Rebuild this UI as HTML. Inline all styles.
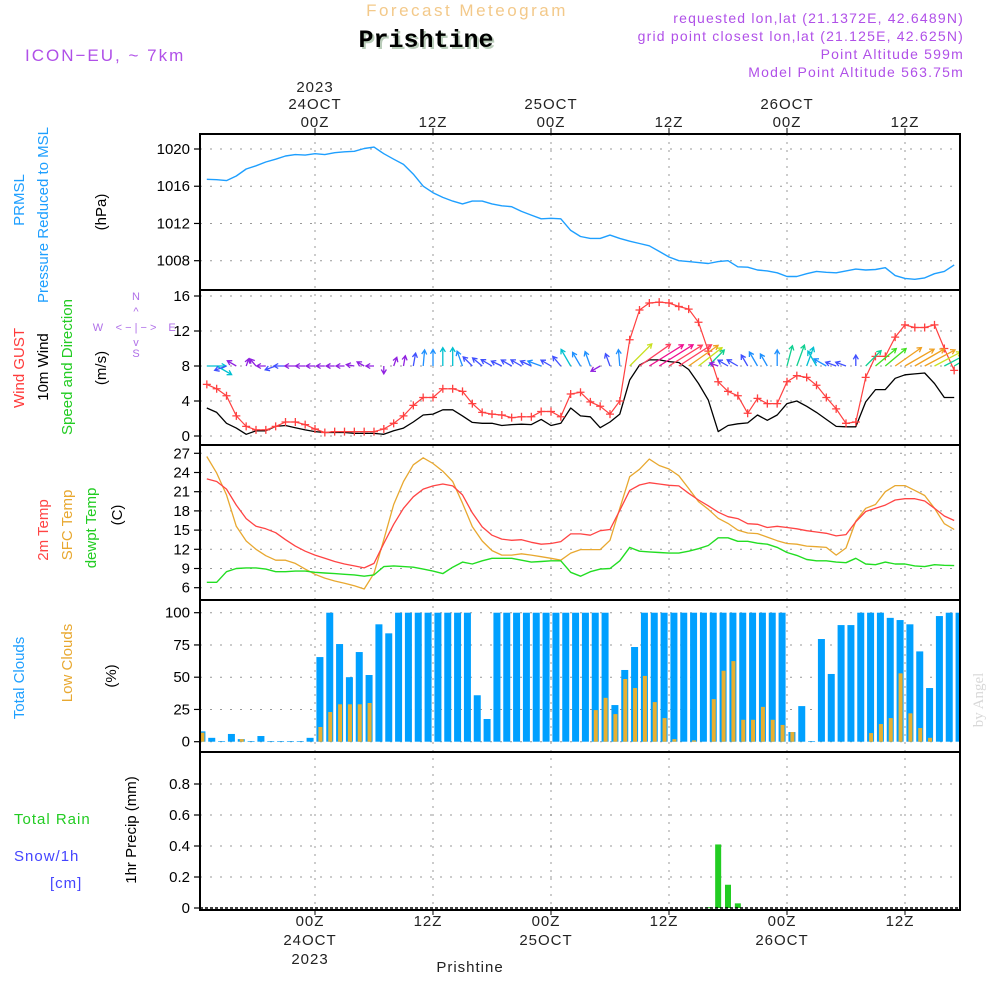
<!DOCTYPE html>
<html><head><meta charset="utf-8"><title>Forecast Meteogram Prishtine</title>
<style>
html,body{margin:0;padding:0;background:#fff;}
svg{display:block;font-family:"Liberation Sans",sans-serif;}
.tick{font-size:15px;fill:#000;text-anchor:end;}
.tl{font-size:15px;fill:#222;text-anchor:middle;letter-spacing:1px;}
.lab{font-size:15px;}
</style></head>
<body>
<svg id="chart" width="1000" height="1000" viewBox="0 0 1000 1000" xmlns="http://www.w3.org/2000/svg">
<rect width="1000" height="1000" fill="#fff"/>
<text x="467" y="16" font-size="17" fill="#f3c98a" text-anchor="middle" letter-spacing="2.5">Forecast Meteogram</text>
<text x="428" y="49" font-family="Liberation Mono, monospace" font-weight="bold" font-size="25" fill="#b9ccb9" text-anchor="middle">Prishtine</text>
<text x="426" y="47" font-family="Liberation Mono, monospace" font-weight="bold" font-size="25" fill="#000" text-anchor="middle">Prishtine</text>
<text x="25" y="61" font-size="17" fill="#b050e8" letter-spacing="2">ICON−EU, ~ 7km</text>
<g font-size="14" fill="#b050e8" text-anchor="end" letter-spacing="1.2">
<text x="964" y="23">requested lon,lat (21.1372E, 42.6489N)</text>
<text x="964" y="41">grid point closest lon,lat (21.125E, 42.625N)</text>
<text x="964" y="59">Point Altitude 599m</text>
<text x="964" y="77">Model Point Altitude 563.75m</text>
</g>
<text transform="translate(983,700) rotate(-90)" font-family="Liberation Serif, serif" font-size="15" fill="#d8d8d8" text-anchor="middle">by Angel</text>

<g class="tl">
<text class="tl" x="315" y="92">2023</text>
<text class="tl" x="315" y="109">24OCT</text>
<text class="tl" x="315" y="127">00Z</text>
<text class="tl" x="433" y="127">12Z</text>
<text class="tl" x="551" y="109">25OCT</text>
<text class="tl" x="551" y="127">00Z</text>
<text class="tl" x="669" y="127">12Z</text>
<text class="tl" x="787" y="109">26OCT</text>
<text class="tl" x="787" y="127">00Z</text>
<text class="tl" x="905" y="127">12Z</text>
</g>
<g>
<text class="tl" x="310" y="926">00Z</text>
<text class="tl" x="310" y="945">24OCT</text>
<text class="tl" x="310" y="964">2023</text>
<text class="tl" x="428" y="926">12Z</text>
<text class="tl" x="546" y="926">00Z</text>
<text class="tl" x="546" y="945">25OCT</text>
<text class="tl" x="664" y="926">12Z</text>
<text class="tl" x="782" y="926">00Z</text>
<text class="tl" x="782" y="945">26OCT</text>
<text class="tl" x="900" y="926">12Z</text>
<text x="470" y="972" font-size="15" fill="#222" text-anchor="middle" letter-spacing="1">Prishtine</text>
</g>

<g class="lab">
<text transform="translate(24,200) rotate(-90)" fill="#1e9fff" text-anchor="middle">PRMSL</text>
<text transform="translate(48,215) rotate(-90)" fill="#1e9fff" text-anchor="middle">Pressure Reduced to MSL</text>
<text transform="translate(106,212) rotate(-90)" fill="#000" text-anchor="middle">(hPa)</text>
</g>
<g class="lab">
<text transform="translate(24,368) rotate(-90)" fill="#ff3b3b" text-anchor="middle">Wind GUST</text>
<text transform="translate(48,367) rotate(-90)" fill="#000" text-anchor="middle">10m Wind</text>
<text transform="translate(72,367) rotate(-90)" fill="#22cc22" text-anchor="middle">Speed and Direction</text>
<text transform="translate(106,368) rotate(-90)" fill="#000" text-anchor="middle">(m/s)</text>
</g>
<g font-size="11" fill="#b070e8" text-anchor="middle">
<text x="136" y="300">N</text>
<text x="136" y="315">^</text>
<text x="98" y="331">W</text>
<text x="136" y="331">&lt; − | − &gt;</text>
<text x="172" y="331">E</text>
<text x="136" y="346">v</text>
<text x="136" y="357">S</text>
</g>
<g class="lab">
<text transform="translate(48,530) rotate(-90)" fill="#ff4444" text-anchor="middle">2m Temp</text>
<text transform="translate(72,525) rotate(-90)" fill="#e8a830" text-anchor="middle">SFC Temp</text>
<text transform="translate(96,528) rotate(-90)" fill="#22cc22" text-anchor="middle">dewpt Temp</text>
<text transform="translate(122,515) rotate(-90)" fill="#000" text-anchor="middle">(C)</text>
</g>
<g class="lab">
<text transform="translate(24,678) rotate(-90)" fill="#1e9fff" text-anchor="middle">Total Clouds</text>
<text transform="translate(72,663) rotate(-90)" fill="#e8a830" text-anchor="middle">Low Clouds</text>
<text transform="translate(116,676) rotate(-90)" fill="#000" text-anchor="middle">(%)</text>
</g>
<g class="lab">
<text x="14" y="824" fill="#22cc22" letter-spacing="1">Total  Rain</text>
<text x="14" y="861" fill="#4444ff" letter-spacing="1">Snow/1h</text>
<text x="50" y="888" fill="#4444ff" letter-spacing="1">[cm]</text>
<text transform="translate(136,830) rotate(-90)" fill="#000" text-anchor="middle">1hr Precip (mm)</text>
</g>
<defs><clipPath id="plotclip"><rect x="200" y="134" width="760" height="776"/></clipPath></defs>
<g id="grid"></g>
<g id="marks" clip-path="url(#plotclip)"></g>
<g id="frames"></g>
</svg>
<script>
// ---- data (hour index i -> hours since 00Z 24OCT: -11 + i) ----
const timeTicks = [0, 12, 24, 36, 48, 60];
const pressTicks = [1008, 1012, 1016, 1020];
const windTicks = [0, 4, 8, 12, 16];
const tempTicks = [6, 9, 12, 15, 18, 21, 24, 27];
const cloudTicks = [0, 25, 50, 75, 100];
const precipTicks = [0, 0.2, 0.4, 0.6, 0.8];
const precipTickLabels = ["0", "0.2", "0.4", "0.6", "0.8"];

const pressure = [1016.75,1016.7,1016.6,1017.1,1017.85,1018.2,1018.6,1018.9,1019.25,1019.4,1019.35,1019.5,1019.4,1019.6,1019.7,1019.75,1020.05,1020.2,1019.5,1018.9,1018.35,1017.3,1016.0,1015.3,1014.8,1014.4,1014.1,1014.4,1014.4,1014.1,1013.9,1013.8,1013.3,1012.9,1012.5,1012.55,1012.5,1011.25,1010.6,1010.4,1010.4,1010.75,1010.4,1010.1,1009.85,1009.6,1009.0,1008.4,1008.0,1007.9,1007.8,1007.7,1007.9,1008.0,1007.35,1007.3,1007.0,1006.9,1006.7,1006.3,1006.3,1006.6,1006.85,1006.75,1006.7,1006.9,1007.1,1007.0,1007.05,1007.25,1006.4,1006.1,1006.0,1006.15,1006.6,1006.85,1007.55];
const gust = [5.9,5.4,4.6,2.3,1.1,0.7,0.7,1.1,1.6,1.6,1.3,0.8,0.4,0.5,0.5,0.5,0.5,0.5,0.8,1.45,2.3,3.5,4.4,4.4,5.4,5.4,5.1,3.7,2.7,2.5,2.4,2.1,2.2,2.2,2.8,2.8,2.2,4.8,5.0,3.9,3.4,2.5,4.0,11.0,14.4,15.2,15.3,15.2,14.8,14.5,13.0,9.7,6.2,5.1,4.6,2.6,4.3,3.7,3.7,6.2,6.9,6.7,5.8,4.4,3.1,1.45,1.6,6.7,9.1,9.1,11.3,12.7,12.4,12.4,12.7,10.0,7.5];
const wind = [3.2,2.7,1.45,0.9,0.2,0.6,0.6,1.1,1.2,0.95,0.7,0.5,0.4,0.4,0.4,0.3,0.3,0.3,0.2,0.6,0.9,1.6,2.4,2.5,3.0,3.0,2.3,1.55,1.45,1.45,1.2,1.3,1.35,1.3,1.9,1.2,1.45,3.2,2.3,2.2,0.95,1.6,2.5,6.4,8.1,8.7,8.7,8.5,8.4,7.6,6.0,4.1,0.5,1.2,1.4,1.5,2.4,1.8,2.4,3.7,4.0,3.4,2.7,1.9,1.1,1.05,1.05,3.9,5.3,5.3,6.6,7.0,7.1,7.2,6.0,4.4,4.4];
const windDirTo = [90,120,250,300,20,320,270,250,270,270,270,270,270,270,270,280,300,270,180,20,10,10,5,0,0,0,340,315,310,300,295,300,300,295,290,300,320,330,330,340,240,340,355,45,55,58,58,58,57,55,52,45,290,300,300,330,330,330,0,15,20,20,330,300,290,290,0,45,50,50,55,60,60,62,62,62,60];
const temp2m = [23.0,22.6,21.4,18.9,16.8,15.6,15.2,14.6,13.5,12.5,11.7,11.1,10.6,10.1,9.7,9.4,9.1,9.8,12.9,15.9,18.4,20.2,21.4,21.9,22.2,21.9,20.5,17.7,15.5,14.2,13.6,13.4,13.5,13.1,12.8,12.9,13.2,14.4,14.4,14.2,14.9,15.1,18.1,21.2,22.05,22.4,22.2,22.0,21.9,20.75,19.7,18.8,17.8,17.1,16.8,16.0,15.9,15.4,15.6,15.4,15.2,14.9,14.7,14.5,14.1,14.3,16.3,17.9,18.4,18.9,19.7,19.9,19.9,19.55,18.4,17.2,16.5];
const tempSfc = [26.5,23.9,20.5,15.6,13.3,12.0,11.0,10.3,10.3,9.8,8.9,8.1,7.5,7.05,6.7,6.3,5.8,8.25,13.5,19.0,22.6,25.2,26.3,25.4,24.2,22.6,19.2,15.55,13.3,11.8,11.1,11.1,11.3,11.1,10.85,10.6,10.3,11.4,11.95,11.95,11.95,13.4,18.4,23.35,24.5,26.1,25.1,24.55,23.5,21.5,19.45,18.25,16.85,16.05,15.0,14.55,14.45,13.9,13.35,12.9,12.8,12.5,12.4,12.3,11.1,12.2,16.4,18.4,19.0,21.0,21.95,21.95,21.2,20.4,18.4,16.0,15.1];
const dewpt = [6.85,6.85,8.5,9.0,9.1,9.1,8.9,8.5,8.5,8.6,8.6,8.4,8.3,8.2,8.1,8.0,7.8,8.0,9.3,9.4,9.3,9.2,8.9,8.6,8.2,9.2,10.0,9.7,10.2,10.6,10.6,10.6,10.3,10.0,10.1,10.2,10.2,8.4,7.8,8.5,8.9,9.0,10.2,12.3,11.7,11.6,11.5,11.4,11.4,11.7,12.1,12.6,13.8,13.8,13.25,13.25,12.95,12.8,12.3,11.5,11.05,10.4,10.2,10.2,10.0,9.9,10.6,9.7,9.6,10.0,9.7,9.7,9.4,9.3,9.6,9.5,9.45];
// cloud bars at hours -11.5 + i
const totalClouds = [8,3,0.5,6,2,0.5,4.4,0.5,0.5,0.5,0.5,3,65.6,100,75.7,50,69.5,51.7,91,84,100,100,100,100,100,100,100,100,36,17.6,100,100,100,100,100,100,100,100,100,100,100,100,28.4,55.6,73.4,100,100,100,100,100,100,100,100,100,100,100,100,100,100,100,7.5,27.6,0.5,79.6,52.5,90.4,90.4,100,100,100,96,94.3,91,70,41.6,97.4,100,100];
const lowClouds = [7,0,0,0,2,0,0,0,0,0,0,0,11.4,23,29,29,29,30,0,0,0,0,0,0,0,0,0,0,0,0,0,0,0,0,0,0,0,0,0,0,24.5,34,21.4,48.6,41.6,51,30.7,18.3,2,0,1,0,33,55,62.5,17,17,27,17,13,7.5,0,0,0,0,0,0,0,6.7,13.7,18.3,53,22,10.6,3,0,0,0];
const precip = [0,0,0,0,0,0,0,0,0,0,0,0,0,0,0,0,0,0,0,0,0,0,0,0,0,0,0,0,0,0,0,0,0,0,0,0,0,0,0,0,0,0,0,0,0,0,0,0,0,0,0,0.005,0.41,0.15,0.03,0,0,0,0,0,0,0,0,0,0,0,0,0,0,0,0,0,0,0,0,0,0];

// ---- axes ----
const NS = "http://www.w3.org/2000/svg";
const X0 = 200, X1 = 960;
function xs(h) { return 315 + h * 9.8333; }
function lineH(i) { return -11 + i; }
function barH(i) { return -11.5 + i; }
function lin(d0, d1, r0, r1) { return v => r0 + (v - d0) * (r1 - r0) / (d1 - d0); }
const yP = lin(1020, 1008, 149, 260.7);
const yW = lin(0, 16, 436, 296);
const yT = lin(27, 6, 453.3, 587.7);
const yC = lin(0, 100, 741.7, 612.7);
const yR = lin(0, 0.8, 908, 784);
const panels = [[134, 290, yP, pressTicks, null], [290, 445, yW, windTicks, null], [445, 600, yT, tempTicks, null], [600, 752, yC, cloudTicks, null], [752, 910, yR, precipTicks, precipTickLabels]];

function mk(tag, attrs, parent) {
  const e = document.createElementNS(NS, tag);
  for (const k in attrs) e.setAttribute(k, attrs[k]);
  parent.appendChild(e);
  return e;
}
const grid = document.getElementById('grid');
const marks = document.getElementById('marks');
const frames = document.getElementById('frames');

// grid + ticks
timeTicks.forEach(h => {
  const x = xs(h);
  const g = mk('line', {x1: x, x2: x, y1: 134, y2: 910, stroke: '#999', 'stroke-width': 1, 'stroke-dasharray': '2,6'}, grid);
  
  
  mk('line', {x1: x, x2: x, y1: 128, y2: 134, stroke: '#000', 'stroke-width': 1}, frames);
  mk('line', {x1: x, x2: x, y1: 910, y2: 915, stroke: '#000', 'stroke-width': 1}, frames);
});
panels.forEach((p, pi) => {
  const [top, bot, y, ticks, labels] = p;
  ticks.forEach((t, k) => {
    const yy = y(t);
    const g = mk('line', {x1: X0, x2: X1, y1: yy, y2: yy, stroke: '#999', 'stroke-width': 1, 'stroke-dasharray': '2,8'}, grid);
    
    
    mk('line', {x1: 194, x2: X0, y1: yy, y2: yy, stroke: '#000', 'stroke-width': 1.2}, frames);
    const tx = mk('text', {x: 190, y: yy + 5, class: 'tick'}, frames);
    tx.textContent = labels ? labels[k] : String(t);
    
    
  });
  const fr = mk('rect', {x: X0, y: top, width: X1 - X0, height: bot - top, fill: 'none', stroke: '#000', 'stroke-width': 2}, frames);
  
  
});

function drawLine(arr, y, color, w, name) {
  const pts = arr.map((v, i) => xs(lineH(i)).toFixed(1) + ',' + y(v).toFixed(1)).join(' ');
  const pl = mk('polyline', {points: pts, fill: 'none', stroke: color, 'stroke-width': w, 'stroke-linejoin': 'round'}, marks);
  
  
}

// clouds
totalClouds.forEach((v, i) => {
  const x = xs(barH(i));
  const r = mk('rect', {x: x - 3.5, y: yC(v), width: 7, height: yC(0) - yC(v), fill: '#00a0ff'}, marks);
  
  
});
lowClouds.forEach((v, i) => {
  if (v <= 0) return;
  const x = xs(barH(i));
  const r = mk('rect', {x: x - 1.5, y: yC(v), width: 4, height: yC(0) - yC(v), fill: '#e8b030'}, marks);
  
  
});
// precip
precip.forEach((v, i) => {
  if (v <= 0) return;
  const x = xs(lineH(i));
  const r = mk('rect', {x: x - 3, y: yR(v), width: 6, height: Math.max(1, yR(0) - yR(v)), fill: '#22cc22'}, marks);
  
  
});
const zl = mk('line', {x1: X0, x2: X1, y1: yR(0), y2: yR(0), stroke: '#000', 'stroke-width': 1.5, 'stroke-dasharray': '3,2'}, marks);



// lines
drawLine(pressure, yP, '#1e9fff', 1.4, 'pressure-line');
drawLine(wind, yW, '#000', 1.3, 'wind-speed-line');
drawLine(gust, yW, '#ff4040', 1.2, 'wind-gust-line');
drawLine(tempSfc, yT, '#e8a830', 1.3, 'sfc-temp-line');
drawLine(temp2m, yT, '#ff4444', 1.3, 'temp-2m-line');
drawLine(dewpt, yT, '#22dd22', 1.4, 'dewpoint-line');
gust.forEach((v, i) => {
  const x = xs(lineH(i)), y = yW(v);
  const c = mk('path', {d: `M${x - 4},${y}H${x + 4}M${x},${y - 4}V${y + 4}`, stroke: '#ff4040', 'stroke-width': 1.3}, marks);
  
  
});

// wind arrows
function spdColor(s) {
  if (s < 1) return '#9020e0';
  if (s < 1.8) return '#4050ff';
  if (s < 2.6) return '#1e90ff';
  if (s < 3.5) return '#00c0d0';
  if (s < 4.5) return '#10d090';
  if (s < 5.5) return '#40e020';
  if (s < 6.5) return '#c8e020';
  if (s < 7.8) return '#f0a020';
  if (s < 8.6) return '#ff4060';
  return '#f01090';
}
wind.forEach((s, i) => {
  const x = xs(lineH(i)), y = yW(8);
  const a = windDirTo[i] * Math.PI / 180;
  const L = 7 + 3.8 * s;
  const ex = x + Math.sin(a) * L, ey = y - Math.cos(a) * L;
  const hb = 5;
  const a1 = a + Math.PI * 0.83, a2 = a - Math.PI * 0.83;
  const d = `M${x.toFixed(1)},${y.toFixed(1)}L${ex.toFixed(1)},${ey.toFixed(1)}M${(ex + Math.sin(a1) * hb).toFixed(1)},${(ey - Math.cos(a1) * hb).toFixed(1)}L${ex.toFixed(1)},${ey.toFixed(1)}L${(ex + Math.sin(a2) * hb).toFixed(1)},${(ey - Math.cos(a2) * hb).toFixed(1)}`;
  const p = mk('path', {d: d, fill: 'none', stroke: spdColor(s), 'stroke-width': 1.3}, marks);
  
  
});
</script>
</body></html>
